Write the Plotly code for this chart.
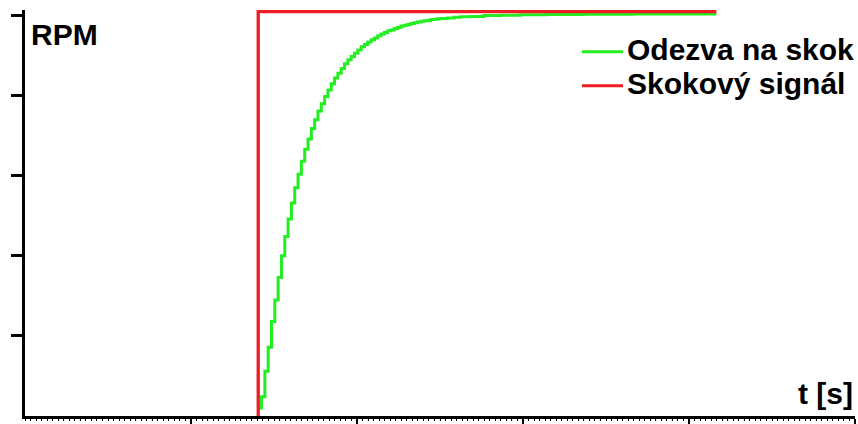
import plotly.graph_objects as go

# ---- data ----
step_t = [1.405, 1.405, 4.165]
step_rpm = [0.0, 5.05, 5.05]

resp_t = [1.405, 1.425, 1.445, 1.465, 1.485, 1.505, 1.525, 1.545, 1.565, 1.585,
          1.605, 1.625, 1.645, 1.665, 1.685, 1.705, 1.725, 1.745, 1.765, 1.785,
          1.805, 1.825, 1.845, 1.865, 1.885, 1.905, 1.925, 1.945, 1.965, 1.985,
          2.005, 2.025, 2.045, 2.065, 2.085, 2.105, 2.125, 2.145, 2.165, 2.185,
          2.205, 2.225, 2.245, 2.265, 2.285, 2.305, 2.325, 2.345, 2.365, 2.385,
          2.405, 2.425, 2.445, 2.465, 2.485, 2.505, 2.545, 2.585, 2.625, 2.685,
          2.765, 2.865, 2.985, 3.145, 3.365, 3.665, 4.165]
resp_rpm = [0.10, 0.24, 0.56, 0.86, 1.18, 1.45, 1.73, 2.00, 2.24, 2.46,
            2.66, 2.85, 3.02, 3.18, 3.33, 3.46, 3.59, 3.70, 3.81, 3.90,
            3.99, 4.07, 4.15, 4.22, 4.28, 4.34, 4.40, 4.45, 4.49, 4.53,
            4.57, 4.61, 4.64, 4.67, 4.70, 4.72, 4.75, 4.77, 4.79, 4.81,
            4.82, 4.84, 4.85, 4.87, 4.88, 4.89, 4.90, 4.91, 4.92, 4.93,
            4.935, 4.94, 4.95, 4.955, 4.96, 4.965, 4.97, 4.98, 4.985, 4.99,
            5.00, 5.005, 5.01, 5.015, 5.018, 5.02, 5.02]

y_ticks = [1, 2, 3, 4, 5]
x_ticks = [1, 2, 3, 4, 5]

legend_names = ["Odezva na skok", "Skokový signál"]
GREEN = "#22ee22"
RED = "#ee1c25"

W, H = 858, 424
L, R, T, B = 25, 3, 10, 8
PW, PH = W - L - R, H - T - B


def px(xp):
    return (xp - L) / PW


def py(yp):
    return (H - B - yp) / PH


fig = go.Figure()
fig.add_trace(go.Scatter(x=resp_t, y=resp_rpm, mode="lines", line_shape="hv",
                         line=dict(color=GREEN, width=3), name=legend_names[0],
                         showlegend=False))
fig.add_trace(go.Scatter(x=step_t, y=step_rpm, mode="lines",
                         line=dict(color=RED, width=3.3), name=legend_names[1],
                         showlegend=False))

FONT = dict(family="Liberation Sans, Arial, sans-serif", size=30, color="black")

ann = []
ann.append(dict(text="<b>RPM</b>", x=px(29), y=py(34), xref="paper", yref="paper",
                xanchor="left", yanchor="middle", showarrow=False, font=FONT))
ann.append(dict(text="<b>t [s]</b>", x=px(855), y=py(393), xref="paper", yref="paper",
                xanchor="right", yanchor="middle", showarrow=False, font=FONT))
for i, (name, col) in enumerate(zip(legend_names, [GREEN, RED])):
    yc = 51.7 + 34 * i
    ann.append(dict(text="<b>%s</b>" % name, x=px(625), y=py(yc - 2), xref="paper",
                    yref="paper", xanchor="left", yanchor="middle", showarrow=False,
                    height=33, font=FONT))
    fig.add_shape(type="line", xref="paper", yref="paper", x0=px(582), x1=px(623),
                  y0=py(yc), y1=py(yc), line=dict(color=col, width=3))

fig.update_layout(
    width=W, height=H, margin=dict(l=L, r=R, t=T, b=B),
    paper_bgcolor="white", plot_bgcolor="white", showlegend=False,
    annotations=ann,
)
fig.update_xaxes(range=[0, 5], tickvals=x_ticks, ticks="outside", ticklen=5,
                 tickwidth=2, tickcolor="black", showline=True, linewidth=3,
                 linecolor="black", showgrid=False, zeroline=False,
                 showticklabels=False,
                 minor=dict(dtick=1 / 30, tick0=0, ticks="outside", ticklen=2,
                            tickwidth=1, tickcolor="black", showgrid=False))
fig.update_yaxes(range=[0, 5.07], tickvals=y_ticks, ticks="outside", ticklen=11,
                 tickwidth=3, tickcolor="black", showline=True, linewidth=3,
                 linecolor="black", showgrid=False, zeroline=False,
                 showticklabels=False)

fig.write_html("out.html", config={"displayModeBar": False},
               post_script="document.body.style.margin='0';document.body.style.overflow='hidden';")
